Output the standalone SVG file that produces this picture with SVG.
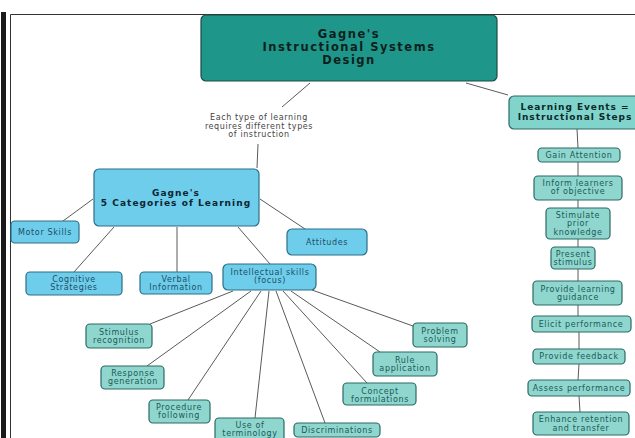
<svg xmlns="http://www.w3.org/2000/svg" width="635" height="438" viewBox="0 0 635 438">
<style>
.c line{stroke:#5a5a5a;stroke-width:1}
.top rect{fill:#1e9689;stroke:#1f4a46;stroke-width:1.2}
.blue rect{fill:#6ecdeb;stroke:#2c6f88;stroke-width:1.2}
.teal rect{fill:#8fd6cf;stroke:#2a6a64;stroke-width:1.2}
.ev rect{fill:#80d4cc;stroke:#2a6a64;stroke-width:1.2}
text{font-family:"DejaVu Sans",Verdana,sans-serif;text-anchor:middle}
.tb{font-size:11.5px;font-weight:bold;fill:#0d1f1d;letter-spacing:1.5px}
.hb{font-size:9px;font-weight:bold;fill:#0b2530;letter-spacing:1.05px}
.hb2{font-size:9px;font-weight:bold;fill:#0b2a28;letter-spacing:0.95px}
.bt{font-size:8px;fill:#1b4d66;letter-spacing:0.65px}
.tt{font-size:8px;fill:#1b5a55;letter-spacing:0.65px}
.lab{font-size:8px;fill:#444;letter-spacing:0.6px}
</style>
<rect x="0" y="0" width="635" height="438" fill="#fff"/>
<rect x="1" y="12" width="5" height="426" fill="#1a1a1a"/>
<path d="M10.5 438 V14.5 H635" fill="none" stroke="#333" stroke-width="1"/>
<g class="c" id="connectors">
<line x1="310" y1="83" x2="282" y2="107"/>
<line x1="258" y1="144" x2="257" y2="168"/>
<line x1="466" y1="83" x2="508" y2="95"/>
<line x1="93" y1="199" x2="63" y2="221"/>
<line x1="114" y1="227" x2="74" y2="272"/>
<line x1="177" y1="227" x2="177" y2="272"/>
<line x1="238" y1="227" x2="270" y2="264"/>
<line x1="260" y1="199" x2="305" y2="229"/>
<line x1="233" y1="291" x2="150" y2="324"/>
<line x1="251" y1="291" x2="147" y2="366"/>
<line x1="261" y1="291" x2="188" y2="400"/>
<line x1="269" y1="291" x2="255" y2="418"/>
<line x1="276" y1="291" x2="325" y2="423"/>
<line x1="283" y1="291" x2="367" y2="383"/>
<line x1="291" y1="291" x2="380" y2="352"/>
<line x1="312" y1="290" x2="413" y2="326"/>
<line x1="577" y1="129" x2="578" y2="148"/>
<line x1="578" y1="162" x2="578" y2="176"/>
<line x1="578" y1="200" x2="578" y2="208"/>
<line x1="578" y1="239" x2="578" y2="247"/>
<line x1="578" y1="269" x2="578" y2="281"/>
<line x1="578" y1="305" x2="578" y2="316"/>
<line x1="579" y1="332" x2="579" y2="349"/>
<line x1="579" y1="364" x2="578" y2="380"/>
<line x1="579" y1="396" x2="580" y2="412"/>
</g>
<g id="n-top" class="top"><rect x="201" y="15" width="296" height="66" rx="5"/>
<text class="tb" x="349" y="38">Gagne's</text><text class="tb" x="349" y="51">Instructional Systems</text><text class="tb" x="349" y="64">Design</text></g>
<g id="n-label"><text class="lab" x="259" y="120">Each type of learning</text><text class="lab" x="259" y="129">requires different types</text><text class="lab" x="259" y="137">of instruction</text></g>
<g id="n-cat" class="blue"><rect x="94" y="169" width="165" height="57" rx="5"/>
<text class="hb" x="176" y="196">Gagne's</text><text class="hb" x="176" y="205.5">5 Categories of Learning</text></g>
<g id="n-motor" class="blue"><rect x="11" y="221" width="68" height="22" rx="4"/><text class="bt" x="45" y="235">Motor Skills</text></g>
<g id="n-cog" class="blue"><rect x="26" y="272" width="96" height="23" rx="4"/><text class="bt" x="74" y="282">Cognitive</text><text class="bt" x="74" y="290">Strategies</text></g>
<g id="n-verbal" class="blue"><rect x="140" y="272" width="72" height="22" rx="4"/><text class="bt" x="176" y="282">Verbal</text><text class="bt" x="176" y="290">Information</text></g>
<g id="n-intel" class="blue"><rect x="223" y="264" width="93" height="26" rx="5"/><text class="bt" x="270" y="275">Intellectual skills</text><text class="bt" x="270" y="283">(focus)</text></g>
<g id="n-att" class="blue"><rect x="287" y="229" width="80" height="26" rx="5"/><text class="bt" x="327" y="245">Attitudes</text></g>
<g id="n-stim" class="teal"><rect x="86" y="324" width="66" height="24" rx="4"/><text class="tt" x="119" y="335">Stimulus</text><text class="tt" x="119" y="343">recognition</text></g>
<g id="n-resp" class="teal"><rect x="101" y="366" width="63" height="23" rx="4"/><text class="tt" x="133" y="376">Response</text><text class="tt" x="133" y="384">generation</text></g>
<g id="n-proc" class="teal"><rect x="149" y="400" width="61" height="23" rx="4"/><text class="tt" x="179" y="410">Procedure</text><text class="tt" x="179" y="418">following</text></g>
<g id="n-term" class="teal"><rect x="215" y="418" width="69" height="24" rx="4"/><text class="tt" x="250" y="428">Use of</text><text class="tt" x="250" y="436">terminology</text></g>
<g id="n-disc" class="teal"><rect x="294" y="423" width="86" height="14" rx="4"/><text class="tt" x="337" y="433">Discriminations</text></g>
<g id="n-concept" class="teal"><rect x="343" y="383" width="73" height="22" rx="4"/><text class="tt" x="380" y="394">Concept</text><text class="tt" x="380" y="402">formulations</text></g>
<g id="n-rule" class="teal"><rect x="373" y="352" width="64" height="24" rx="4"/><text class="tt" x="405" y="363">Rule</text><text class="tt" x="405" y="371">application</text></g>
<g id="n-prob" class="teal"><rect x="413" y="323" width="54" height="24" rx="4"/><text class="tt" x="440" y="334">Problem</text><text class="tt" x="440" y="342">solving</text></g>
<g id="n-events" class="ev"><rect x="509" y="96" width="140" height="33" rx="5"/><text class="hb2" x="575" y="110">Learning Events =</text><text class="hb2" x="575" y="119.5">Instructional Steps</text></g>
<g id="n-gain" class="teal"><rect x="538" y="148" width="82" height="14" rx="4"/><text class="tt" x="579" y="158">Gain Attention</text></g>
<g id="n-inform" class="teal"><rect x="534" y="176" width="88" height="24" rx="4"/><text class="tt" x="578" y="186">Inform learners</text><text class="tt" x="578" y="194">of objective</text></g>
<g id="n-prior" class="teal"><rect x="546" y="208" width="64" height="31" rx="4"/><text class="tt" x="578" y="218">Stimulate</text><text class="tt" x="578" y="226">prior</text><text class="tt" x="578" y="235">knowledge</text></g>
<g id="n-present" class="teal"><rect x="551" y="247" width="44" height="22" rx="4"/><text class="tt" x="573" y="257">Present</text><text class="tt" x="573" y="265">stimulus</text></g>
<g id="n-guide" class="teal"><rect x="533" y="281" width="89" height="24" rx="4"/><text class="tt" x="578" y="292">Provide learning</text><text class="tt" x="578" y="300">guidance</text></g>
<g id="n-elicit" class="teal"><rect x="532" y="316" width="99" height="16" rx="4"/><text class="tt" x="581" y="327">Elicit performance</text></g>
<g id="n-feed" class="teal"><rect x="533" y="349" width="92" height="15" rx="4"/><text class="tt" x="579" y="359">Provide feedback</text></g>
<g id="n-assess" class="teal"><rect x="528" y="380" width="102" height="16" rx="4"/><text class="tt" x="579" y="391">Assess performance</text></g>
<g id="n-enh" class="teal"><rect x="533" y="412" width="96" height="23" rx="4"/><text class="tt" x="581" y="422">Enhance retention</text><text class="tt" x="581" y="431">and transfer</text></g>
</svg>
